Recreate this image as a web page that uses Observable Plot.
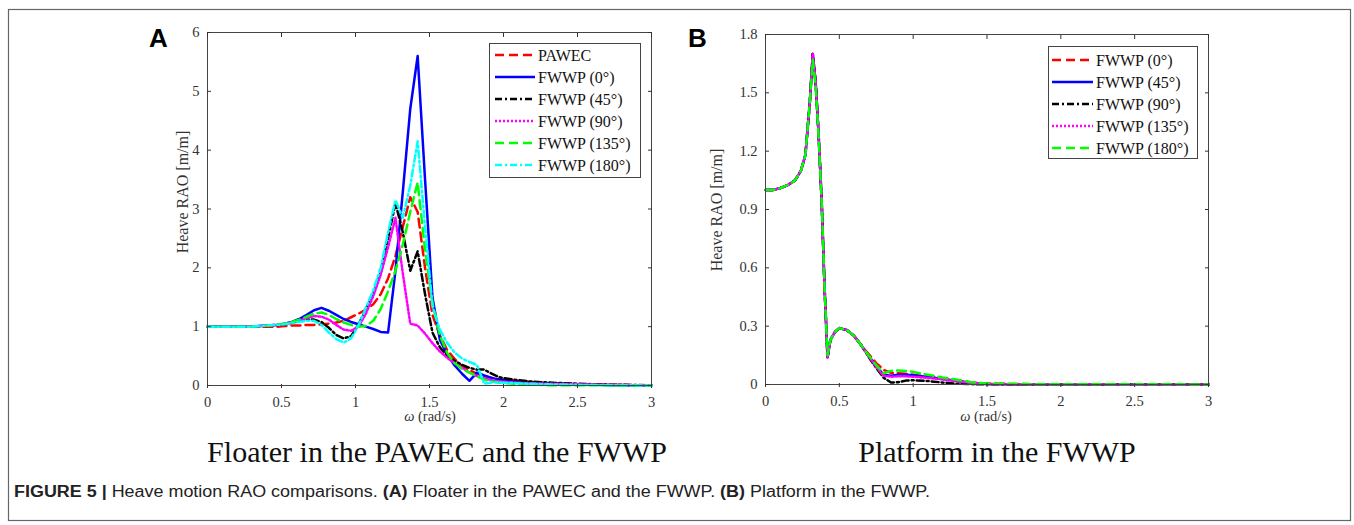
<!DOCTYPE html>
<html>
<head>
<meta charset="utf-8">
<script src="https://cdn.jsdelivr.net/npm/d3@7"></script>
<script src="https://cdn.jsdelivr.net/npm/@observablehq/plot@0.6"></script>
<style>
  html, body { margin: 0; padding: 0; background: #fff; }
  #fig { position: relative; width: 1354px; height: 525px; overflow: hidden; background: #fff; }
  #fig svg { position: absolute; }
</style>
</head>
<body>
<div id="fig"></div>
<script>
// ---------- Data ----------
const xTicks = [0, 0.5, 1, 1.5, 2, 2.5, 3];
const yTicksA = [0, 1, 2, 3, 4, 5, 6];
const yTicksB = [0, 0.3, 0.6, 0.9, 1.2, 1.5, 1.8];

// Panel A: floater heave RAO
const omegaA = [0, 0.1, 0.2, 0.3, 0.4, 0.47, 0.52, 0.57, 0.62, 0.67, 0.72, 0.77, 0.82, 0.87, 0.92, 0.97, 1.02, 1.07, 1.12, 1.17, 1.22, 1.27, 1.32, 1.37, 1.42, 1.47, 1.52, 1.57, 1.62, 1.67, 1.72, 1.77, 1.82, 1.87, 1.92, 1.97, 2.07, 2.17, 2.3, 2.5, 2.7, 2.9, 3.0];
const pawecA = [1, 1, 1, 1, 1, 1, 1.01, 1.02, 1.02, 1.03, 1.03, 1.04, 1.05, 1.07, 1.10, 1.16, 1.22, 1.29, 1.38, 1.55, 1.82, 2.2, 2.7, 3.2, 2.95, 2.0, 1.2, 0.85, 0.6, 0.45, 0.33, 0.26, 0.2, 0.16, 0.13, 0.11, 0.08, 0.06, 0.04, 0.02, 0.01, 0.005, 0.004];
const fwwp0A = [1, 1, 1, 1, 1.02, 1.03, 1.05, 1.08, 1.13, 1.2, 1.28, 1.32, 1.27, 1.2, 1.13, 1.08, 1.04, 1.0, 0.96, 0.91, 0.9, 1.95, 3.3, 4.7, 5.6, 3.5, 1.5, 0.78, 0.52, 0.34, 0.2, 0.08, 0.22, 0.17, 0.13, 0.1, 0.07, 0.05, 0.03, 0.02, 0.01, 0.005, 0.004];
const fwwp45A = [1, 1, 1, 1, 1.02, 1.03, 1.04, 1.06, 1.09, 1.12, 1.12, 1.08, 0.98, 0.86, 0.8, 0.84, 1.03, 1.3, 1.55, 1.92, 2.5, 3.1, 2.6, 1.95, 2.28, 1.55, 0.9, 0.65, 0.5, 0.42, 0.35, 0.3, 0.27, 0.27, 0.2, 0.14, 0.1, 0.07, 0.05, 0.03, 0.015, 0.008, 0.005];
const fwwp90A = [1, 1, 1, 1, 1.02, 1.03, 1.05, 1.07, 1.1, 1.15, 1.18, 1.17, 1.12, 1.03, 0.95, 0.93, 1.0, 1.22, 1.52, 1.88, 2.35, 2.85, 1.9, 1.05, 1.02, 0.88, 0.72, 0.58, 0.47, 0.38, 0.3, 0.22, 0.16, 0.12, 0.09, 0.07, 0.05, 0.04, 0.03, 0.02, 0.01, 0.005, 0.004];
const fwwp135A = [1, 1, 1, 1, 1.02, 1.03, 1.05, 1.08, 1.12, 1.17, 1.22, 1.24, 1.2, 1.13, 1.07, 1.03, 1.0, 1.01, 1.1, 1.3, 1.6, 1.95, 2.4, 2.95, 3.45, 2.3, 1.4, 0.85, 0.55, 0.38, 0.28, 0.22, 0.16, 0.1, 0.07, 0.05, 0.03, 0.02, 0.005, 0.003, 0.002, 0.001, 0.001];
const fwwp180A = [1, 1, 1, 1, 1.02, 1.03, 1.04, 1.06, 1.08, 1.1, 1.1, 1.03, 0.9, 0.79, 0.73, 0.8, 1.02, 1.32, 1.62, 2.0, 2.6, 3.15, 2.85, 3.4, 4.15, 2.7, 1.35, 0.95, 0.72, 0.56, 0.46, 0.4, 0.35, 0.03, 0.05, 0.05, 0.04, 0.03, 0.02, 0.01, 0.005, 0.002, 0.001];

// Panel B: platform heave RAO
const omegaB = [0, 0.05, 0.1, 0.15, 0.2, 0.24, 0.27, 0.3, 0.32, 0.34, 0.36, 0.38, 0.4, 0.42, 0.44, 0.47, 0.5, 0.55, 0.6, 0.65, 0.7, 0.75, 0.8, 0.85, 0.9, 0.95, 1.0, 1.1, 1.2, 1.3, 1.4, 1.5, 1.75, 2.0, 2.5, 3.0];
const fwwp0B = [1.0, 1.0, 1.01, 1.025, 1.05, 1.1, 1.18, 1.45, 1.70, 1.55, 1.28, 0.95, 0.5, 0.14, 0.23, 0.27, 0.29, 0.28, 0.25, 0.2, 0.155, 0.11, 0.075, 0.06, 0.058, 0.055, 0.05, 0.04, 0.03, 0.02, 0.01, 0.005, 0.002, 0.001, 0.001, 0.0005];
const fwwp45B = [1.0, 1.0, 1.01, 1.025, 1.05, 1.1, 1.18, 1.45, 1.70, 1.55, 1.28, 0.95, 0.5, 0.14, 0.23, 0.27, 0.29, 0.28, 0.25, 0.2, 0.145, 0.095, 0.05, 0.045, 0.05, 0.05, 0.047, 0.038, 0.028, 0.018, 0.008, 0.003, 0.001, 0.001, 0.0005, 0.0005];
const fwwp90B = [1.0, 1.0, 1.01, 1.025, 1.05, 1.1, 1.18, 1.45, 1.70, 1.55, 1.28, 0.95, 0.5, 0.14, 0.23, 0.27, 0.29, 0.28, 0.25, 0.2, 0.14, 0.085, 0.035, 0.01, 0.012, 0.02, 0.022, 0.018, 0.01, 0.004, 0.002, 0.001, 0.0005, 0.0005, 0.0005, 0.0005];
const fwwp135B = [1.0, 1.0, 1.01, 1.025, 1.05, 1.1, 1.18, 1.45, 1.70, 1.55, 1.28, 0.95, 0.5, 0.14, 0.23, 0.27, 0.29, 0.28, 0.25, 0.2, 0.145, 0.09, 0.045, 0.04, 0.042, 0.042, 0.04, 0.034, 0.026, 0.016, 0.007, 0.003, 0.001, 0.001, 0.0005, 0.0005];
const fwwp180B = [1.0, 1.0, 1.01, 1.025, 1.05, 1.1, 1.18, 1.45, 1.67, 1.53, 1.27, 0.95, 0.5, 0.15, 0.23, 0.27, 0.29, 0.28, 0.25, 0.2, 0.148, 0.1, 0.058, 0.07, 0.072, 0.07, 0.065, 0.05, 0.036, 0.024, 0.012, 0.005, 0.002, 0.001, 0.001, 0.0005];

const namesA = ["PAWEC", "FWWP (0°)", "FWWP (45°)", "FWWP (90°)", "FWWP (135°)", "FWWP (180°)"];
const namesB = ["FWWP (0°)", "FWWP (45°)", "FWWP (90°)", "FWWP (135°)", "FWWP (180°)"];

// ---------- Styles ----------
const dashes = {solid: null, dashed: "9,5", dashdot: "7,3,2,3", dotted: "2,2"};
const seriesA = [
  {name: namesA[0], values: pawecA, color: "#ff0000", dash: "dashed"},
  {name: namesA[1], values: fwwp0A, color: "#0000ff", dash: "solid"},
  {name: namesA[2], values: fwwp45A, color: "#000000", dash: "dashdot"},
  {name: namesA[3], values: fwwp90A, color: "#ff00ff", dash: "dotted"},
  {name: namesA[4], values: fwwp135A, color: "#00ff00", dash: "dashed"},
  {name: namesA[5], values: fwwp180A, color: "#00ffff", dash: "dashdot"}
];
const seriesB = [
  {name: namesB[0], values: fwwp0B, color: "#ff0000", dash: "dashed"},
  {name: namesB[1], values: fwwp45B, color: "#0000ff", dash: "solid"},
  {name: namesB[2], values: fwwp90B, color: "#000000", dash: "dashdot"},
  {name: namesB[3], values: fwwp135B, color: "#ff00ff", dash: "dotted"},
  {name: namesB[4], values: fwwp180B, color: "#00ff00", dash: "dashed"}
];

const SERIF = "'Liberation Serif', 'Times New Roman', serif";
const SANS = "'Liberation Sans', Arial, sans-serif";
const fig = document.getElementById("fig");

function panel({omega, series, yDomain, yTicks, left, width, height, mL, mR, mT, mB}) {
  const rows = series.flatMap(s => omega.map((w, i) => ({w, v: s.values[i], name: s.name})));
  const axisCommon = {tickSize: -4, label: null, color: "#333", strokeWidth: 1};
  const svg = Plot.plot({
    width, height,
    marginLeft: mL, marginRight: mR, marginTop: mT, marginBottom: mB,
    style: {background: "transparent", overflow: "visible"},
    x: {domain: [0, 3]},
    y: {domain: yDomain},
    marks: [
      ...series.map(s => Plot.line(rows.filter(d => d.name === s.name), {
        x: "w", y: "v", stroke: s.color, strokeWidth: 2.5,
        strokeDasharray: dashes[s.dash], strokeLinejoin: "round"
      })),
      Plot.frame({stroke: "#444", strokeWidth: 1}),
      Plot.axisX(xTicks, {...axisCommon, anchor: "bottom", tickPadding: 12, dy: 3, tickFormat: d => String(d)}),
      Plot.axisX(xTicks, {...axisCommon, anchor: "top", tickFormat: () => ""}),
      Plot.axisY(yTicks, {...axisCommon, anchor: "left", tickPadding: 12, tickFormat: d => String(d)}),
      Plot.axisY(yTicks, {...axisCommon, anchor: "right", tickFormat: () => ""})
    ]
  });
  d3.select(svg).selectAll("text")
    .style("font-family", SERIF)
    .style("font-size", "14.5px")
    .style("fill", "#333");
  svg.style.left = left + "px";
  svg.style.top = "0px";
  fig.appendChild(svg);
}

panel({omega: omegaA, series: seriesA, yDomain: [0, 6], yTicks: yTicksA,
  left: 0, width: 677, height: 430, mL: 207, mR: 26, mT: 32, mB: 45});
panel({omega: omegaB, series: seriesB, yDomain: [0, 1.8], yTicks: yTicksB,
  left: 677, width: 677, height: 430, mL: 88, mR: 146, mT: 34, mB: 46});

// ---------- Overlay: texts, legends, frame ----------
const ov = d3.select(fig).append("svg")
  .attr("width", 1354).attr("height", 525)
  .style("left", "0px").style("top", "0px");

ov.append("rect").attr("x", 8.5).attr("y", 9.5).attr("width", 1342).attr("height", 511)
  .attr("fill", "none").attr("stroke", "#666").attr("stroke-width", 1.2);

// panel letters
ov.append("text").attr("x", 149).attr("y", 47).text("A")
  .attr("font-family", SANS).attr("font-weight", "bold").attr("font-size", 26).attr("fill", "#000");
ov.append("text").attr("x", 688).attr("y", 47).text("B")
  .attr("font-family", SANS).attr("font-weight", "bold").attr("font-size", 26).attr("fill", "#000");

// y axis titles
function yTitle(x, y) {
  ov.append("text").attr("transform", `translate(${x},${y}) rotate(-90)`)
    .attr("text-anchor", "middle").attr("dominant-baseline", "central")
    .style("font-family", SERIF).style("font-size", "16px").attr("fill", "#333")
    .text("Heave RAO [m/m]");
}
yTitle(182, 192);
yTitle(716, 210);

// x axis titles
function xTitle(x, y) {
  const t = ov.append("text").attr("x", x).attr("y", y).attr("text-anchor", "middle")
    .style("font-family", SERIF).style("font-size", "14.5px").attr("fill", "#333");
  t.append("tspan").attr("font-style", "italic").text("ω");
  t.append("tspan").text(" (rad/s)");
}
xTitle(430, 421);
xTitle(986, 421);

// subtitles
ov.append("text").attr("x", 437).attr("y", 462).attr("text-anchor", "middle")
  .style("font-family", SERIF).style("font-size", "30px").attr("fill", "#111")
  .text("Floater in the PAWEC and the FWWP");
ov.append("text").attr("x", 997).attr("y", 462).attr("text-anchor", "middle")
  .style("font-family", SERIF).style("font-size", "30px").attr("fill", "#111")
  .text("Platform in the FWWP");

// caption
const cap = ov.append("text").attr("x", 14).attr("y", 497)
  .style("font-family", SANS).style("font-size", "16px").attr("fill", "#222")
  .attr("textLength", 916).attr("lengthAdjust", "spacingAndGlyphs");
cap.append("tspan").attr("font-weight", "bold").text("FIGURE 5 | ");
cap.append("tspan").text("Heave motion RAO comparisons. ");
cap.append("tspan").attr("font-weight", "bold").text("(A)");
cap.append("tspan").text(" Floater in the PAWEC and the FWWP. ");
cap.append("tspan").attr("font-weight", "bold").text("(B)");
cap.append("tspan").text(" Platform in the FWWP.");

// legends
function legend(series, box, rowY, x1, x2, tx) {
  ov.append("rect").attr("x", box[0] + 0.5).attr("y", box[1] + 0.5)
    .attr("width", box[2] - box[0]).attr("height", box[3] - box[1])
    .attr("fill", "#fff").attr("stroke", "#444").attr("stroke-width", 1);
  series.forEach((s, i) => {
    const y = rowY[i];
    ov.append("line").attr("x1", x1).attr("x2", x2).attr("y1", y).attr("y2", y)
      .attr("stroke", s.color).attr("stroke-width", 2.5)
      .attr("stroke-dasharray", dashes[s.dash]);
    ov.append("text").attr("x", tx).attr("y", y + 5.5)
      .style("font-family", SERIF).style("font-size", "16px").attr("fill", "#111")
      .text(s.name);
  });
}
legend(seriesA, [489, 43, 640, 177], [55, 77, 99, 121, 143, 165], 495, 535, 538);
legend(seriesB, [1048, 46, 1197, 158], [60, 82, 104, 126, 148], 1052, 1093, 1096);
</script>
</body>
</html>
